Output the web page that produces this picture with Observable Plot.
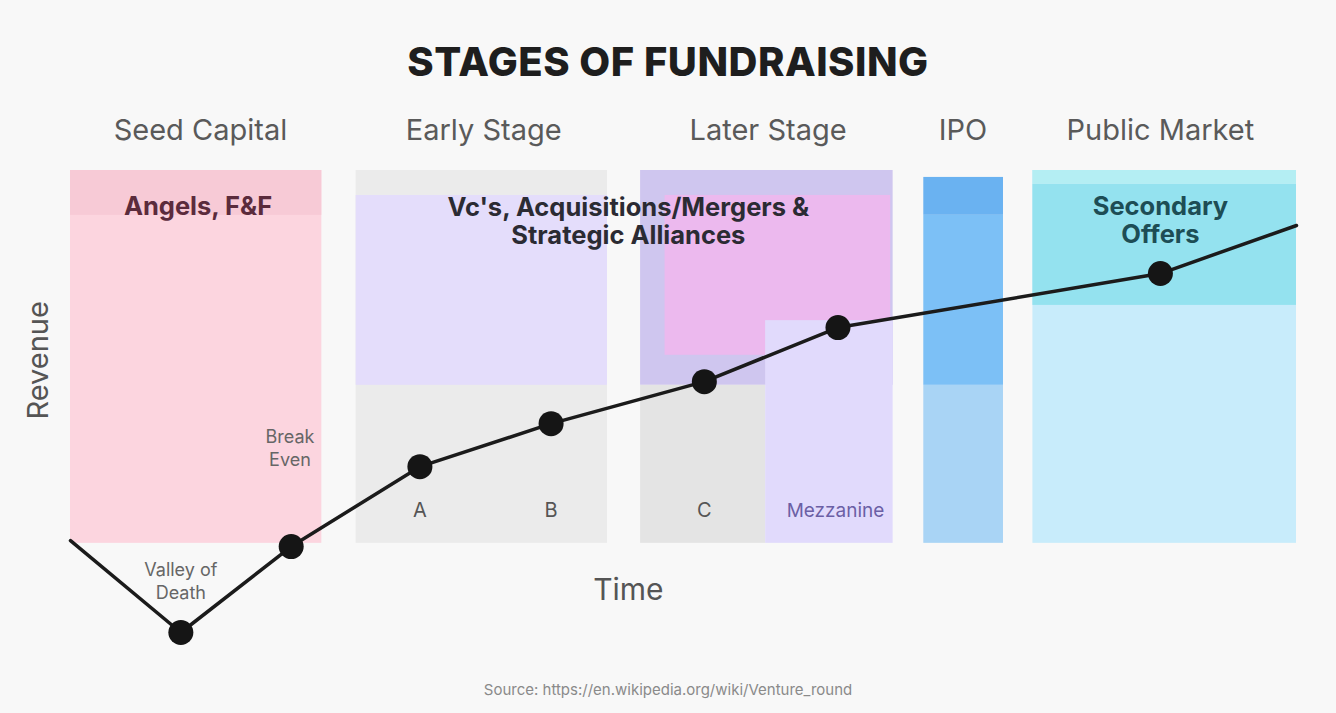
<!DOCTYPE html>
<html>
<head>
<meta charset="utf-8">
<script src="https://cdn.jsdelivr.net/npm/d3@7"></script>
<script src="https://cdn.jsdelivr.net/npm/@observablehq/plot@0.6"></script>
<style>
  html, body { margin: 0; padding: 0; background: #f8f8f8; width: 1336px; height: 713px; overflow: hidden; }
  #title { height: 100px; box-sizing: border-box; padding-top: 40px; line-height: 44px; text-align: center;
           font-family: Inter, sans-serif; font-weight: 800; font-size: 40px; color: #1e1e1e; letter-spacing: 0.5px; }
  #caption { height: 53px; box-sizing: border-box; padding-top: 21px; line-height: 18px; text-align: center;
             font-family: Inter, sans-serif; font-size: 15px; color: #8a8a8a; }
  svg { display: block; }
</style>
</head>
<body>
<div id="title">STAGES OF FUNDRAISING</div>
<div id="chart"></div>
<div id="caption">Source: https://en.wikipedia.org/wiki/Venture_round</div>
<script>
// ---- data ----
const stageNames = ["Seed Capital", "Early Stage", "Later Stage", "IPO", "Public Market"];
const stageCenters = [10.6, 33.7, 56.9, 72.8, 88.9];

// blocks (time from, time to, revenue from, revenue to)
const blockX1 = [0, 0, 23.3, 23.3, 46.5, 48.5, 46.5, 56.7, 69.6, 69.6, 69.6, 78.5, 78.5, 78.5];
const blockX2 = [20.5, 20.5, 43.8, 43.8, 67.1, 66.9, 56.7, 67.1, 76.1, 76.1, 76.1, 100, 100, 100];
const blockY1 = [19.3, 90.3, 19.3, 53.5, 53.5, 60.0, 19.3, 19.3, 19.3, 53.5, 90.3, 19.3, 70.8, 97.0];
const blockY2 = [100, 100, 100, 94.6, 100, 94.6, 53.5, 67.5, 53.5, 90.3, 98.5, 100, 97.0, 100];
const blockColors = ["#fcd5df", "#f7cad6", "#ebebeb", "#e4ddfb", "#cfc6ef", "#ecb9ee", "#e4e4e4", "#e1dafc",
                     "#a9d4f5", "#7cc0f6", "#6ab2f1", "#c8ecfb", "#94e2ef", "#b4eef3"];

// revenue path over time
const pathTime    = [0, 9.0, 18.0, 28.5, 39.2, 51.7, 62.6, 88.9, 100];
const pathRevenue = [19.9, 0, 18.6, 35.9, 45.2, 54.3, 66.0, 77.7, 88.1];
const pathMilestone = [false, true, true, true, true, true, true, true, false];

// annotation texts
const noteTexts = ["Angels, F&F", "Vc's, Acquisitions/Mergers &\nStrategic Alliances", "Secondary\nOffers"];
const noteTime = [10.4, 45.5, 88.9];
const noteRevenue = [92.4, 89.0, 89.2];
const noteColors = ["#5b2b3c", "#2b2b33", "#1d4d55"];

const roundLabels = ["A", "B", "C"];
const roundTime = [28.5, 39.2, 51.7];
const roundRevenue = 26.4;

const smallNotes = ["Valley of\nDeath", "Break\nEven"];
const smallTime = [9.0, 17.9];
const smallRevenue = [11.3, 40.2];

// ---- tables ----
const blocks = blockX1.map((x1, i) => ({x1, x2: blockX2[i], y1: blockY1[i], y2: blockY2[i], fill: blockColors[i]}));
const path = pathTime.map((t, i) => ({t, r: pathRevenue[i], m: pathMilestone[i]}));
const stages = stageNames.map((name, i) => ({name, x: stageCenters[i]}));
const notes = noteTexts.map((text, i) => ({text, x: noteTime[i], y: noteRevenue[i], c: noteColors[i]}));
const rounds = roundLabels.map((text, i) => ({text, x: roundTime[i]}));
const smalls = smallNotes.map((text, i) => ({text, x: smallTime[i], y: smallRevenue[i]}));

const chart = Plot.plot({
  width: 1336,
  height: 560,
  marginLeft: 70,
  marginRight: 40,
  marginTop: 70,
  marginBottom: 28,
  x: {domain: [0, 100], axis: null},
  y: {domain: [0, 100], axis: null},
  color: {type: "identity"},
  style: {background: "#f8f8f8", fontFamily: "Inter, sans-serif", overflow: "visible"},
  marks: [
    Plot.rect(blocks, {x1: "x1", x2: "x2", y1: "y1", y2: "y2", fill: "fill"}),
    Plot.text(stages, {x: "x", y: 108.7, text: "name", fontSize: 29, fill: "#5a5a5a"}),
    Plot.text(notes, {x: "x", y: "y", text: "text", fontSize: 25.5, fontWeight: 700, fill: "c", lineHeight: 1.1}),
    Plot.text(rounds, {x: "x", y: roundRevenue, text: "text", fontSize: 20, fill: "#555"}),
    Plot.text(["Mezzanine"], {x: 62.4, y: roundRevenue, text: d => d, fontSize: 19, fill: "#6b5fa5"}),
    Plot.text(smalls, {x: "x", y: "y", text: "text", fontSize: 18, fill: "#666", lineHeight: 1.3}),
    Plot.line(path, {x: "t", y: "r", stroke: "#1b1b1b", strokeWidth: 3.5}),
    Plot.dot(path.filter(d => d.m), {x: "t", y: "r", r: 12.5, fill: "#151515"}),
    Plot.text(["Time"], {x: 45.5, y: 9.1, text: d => d, fontSize: 30, fill: "#555"}),
    Plot.text(["Revenue"], {x: -2.6, y: 58.9, text: d => d, fontSize: 29, fill: "#555", rotate: -90})
  ]
});
document.getElementById("chart").appendChild(chart);
</script>
</body>
</html>
